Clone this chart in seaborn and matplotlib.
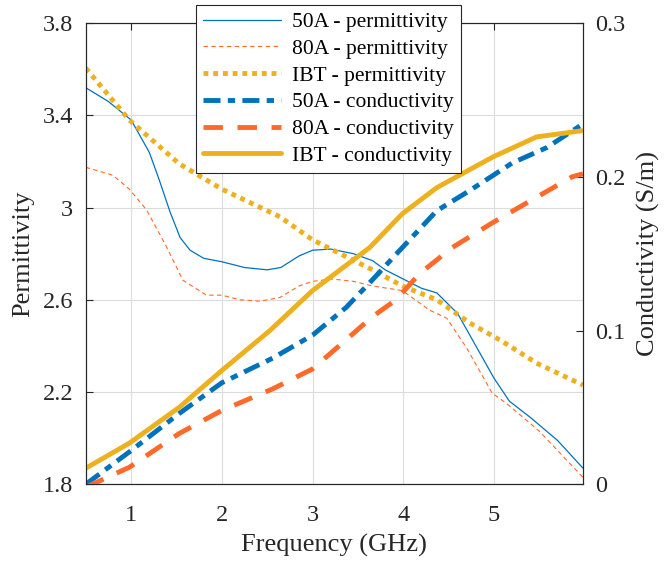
import matplotlib
matplotlib.use("Agg")
import matplotlib.pyplot as plt
import seaborn as sns

sns.set_theme(style="white")
plt.rcParams['font.family'] = ['Liberation Serif', 'DejaVu Serif']

# ---- data ----
f_50a_perm = [0.5, 0.75, 1.0, 1.2, 1.31, 1.43, 1.54, 1.65, 1.8, 2.0, 2.25, 2.5, 2.65, 2.85,
              3.0, 3.2, 3.45, 3.66, 3.8, 4.0, 4.2, 4.37, 4.6, 4.8, 5.0, 5.17, 5.4, 5.7, 5.98]
perm_50a = [3.52, 3.46, 3.38, 3.24, 3.12, 2.98, 2.87, 2.815, 2.78, 2.765, 2.74, 2.73, 2.74, 2.79,
            2.815, 2.82, 2.80, 2.77, 2.73, 2.69, 2.65, 2.63, 2.54, 2.40, 2.26, 2.16, 2.09, 1.99, 1.87]

f_80a_perm = [0.5, 0.8, 0.98, 1.17, 1.39, 1.57, 1.83, 2.0, 2.2, 2.42, 2.64, 2.85, 3.0, 3.22,
              3.45, 3.66, 3.99, 4.29, 4.48, 4.7, 4.98, 5.14, 5.5, 5.98]
perm_80a = [3.175, 3.14, 3.08, 2.99, 2.83, 2.685, 2.62, 2.62, 2.60, 2.594, 2.61, 2.66, 2.68, 2.69,
            2.68, 2.66, 2.64, 2.555, 2.52, 2.39, 2.195, 2.15, 2.03, 1.83]

f_ibt_perm = [0.5, 0.98, 1.53, 2.0, 2.64, 3.0, 3.66, 3.99, 4.37, 4.73, 5.09, 5.47, 5.98]
perm_ibt = [3.605, 3.38, 3.19, 3.08, 2.96, 2.86, 2.73, 2.66, 2.60, 2.50, 2.42, 2.325, 2.23]

f_50a_cond = [0.5, 0.98, 1.53, 2.0, 2.56, 3.0, 3.37, 3.66, 3.99, 4.37, 4.73, 5.2, 5.58, 5.97]
cond_50a = [0.0, 0.021, 0.046, 0.066, 0.082, 0.097, 0.115, 0.133, 0.154, 0.178, 0.191, 0.209, 0.219, 0.234]

f_80a_cond = [0.5, 0.98, 1.53, 2.0, 2.56, 3.0, 3.37, 3.66, 3.92, 4.18, 4.54, 4.98, 5.36, 5.86, 5.98]
cond_80a = [-0.002, 0.011, 0.033, 0.048, 0.062, 0.075, 0.094, 0.109, 0.12, 0.137, 0.154, 0.170, 0.183, 0.200, 0.202]

f_ibt_cond = [0.5, 0.98, 1.53, 2.0, 2.53, 3.0, 3.63, 3.99, 4.37, 4.99, 5.47, 5.97]
cond_ibt = [0.0104, 0.0267, 0.050, 0.074, 0.100, 0.126, 0.154, 0.176, 0.193, 0.213, 0.226, 0.230]

x_ticks = [1, 2, 3, 4, 5]
perm_ticks = [1.8, 2.2, 2.6, 3.0, 3.4, 3.8]
perm_ticklabels = ['1.8', '2.2', '2.6', '3', '3.4', '3.8']
cond_ticks = [0, 0.1, 0.2, 0.3]
cond_ticklabels = ['0', '0.1', '0.2', '0.3']

blue = '#0072BD'
orange = '#FF6A2A'
yellow = '#EDB120'
dark = '#262626'

fig = plt.figure(figsize=(6.7, 5.65), dpi=100)
ax = fig.add_axes([0.128, 0.143, 0.742, 0.816])
ax2 = ax.twinx()

# permittivity (left axis)
sns.lineplot(x=f_50a_perm, y=perm_50a, ax=ax, color=blue, lw=0.9, label='50A - permittivity')
sns.lineplot(x=f_80a_perm, y=perm_80a, ax=ax, color=orange, lw=0.8, label='80A - permittivity')
sns.lineplot(x=f_ibt_perm, y=perm_ibt, ax=ax, color=yellow, lw=3.5, label='IBT - permittivity')
ax.lines[1].set_dashes((4, 3))
ax.lines[2].set_dashes((1, 1))

# conductivity (right axis)
sns.lineplot(x=f_50a_cond, y=cond_50a, ax=ax2, color=blue, lw=3.5, label='50A - conductivity')
sns.lineplot(x=f_80a_cond, y=cond_80a, ax=ax2, color=orange, lw=3.5, label='80A - conductivity')
sns.lineplot(x=f_ibt_cond, y=cond_ibt, ax=ax2, color=yellow, lw=3.5, label='IBT - conductivity')
ax2.lines[0].set_dashes((3.5, 1.5, 1.5, 1.5))
ax2.lines[1].set_dashes((4, 3))

ax.set_xlim(0.5, 5.98)
ax.set_ylim(1.8, 3.8)
ax2.set_ylim(0, 0.3)
ax.set_xticks(x_ticks)
ax.set_yticks(perm_ticks)
ax.set_yticklabels(perm_ticklabels)
ax2.set_yticks(cond_ticks)
ax2.set_yticklabels(cond_ticklabels)

ax.grid(True, color='#dcdcdc', lw=0.8)
ax.set_axisbelow(True)

for a in (ax, ax2):
    for s in a.spines.values():
        s.set_color(dark)
        s.set_linewidth(0.8)
ax.tick_params(axis='y', direction='in', length=5, width=0.8, colors=dark,
               labelsize=17.5, pad=9)
ax.tick_params(axis='x', direction='in', length=5, width=0.8, colors=dark,
               labelsize=17.5, top=True, pad=15)
ax2.tick_params(axis='y', direction='in', length=5, width=0.8, colors=dark,
                labelsize=17.5, pad=9)

ax.set_xlabel('Frequency (GHz)', fontsize=19, color=dark, labelpad=6)
ax.set_ylabel('Permittivity', fontsize=19, color=dark, labelpad=6)
ax2.set_ylabel('Conductivity (S/m)', fontsize=19, color=dark, labelpad=8)

h1, l1 = ax.get_legend_handles_labels()
h2, l2 = ax2.get_legend_handles_labels()
ax.get_legend().remove()
ax2.get_legend().remove()
leg = fig.legend(h1 + h2, l1 + l2, loc='upper center', bbox_to_anchor=(0.49, 0.992),
                 fontsize=15.5, handlelength=3.6, handletextpad=0.5, labelspacing=0.31,
                 borderpad=0.35, borderaxespad=0, frameon=True, fancybox=False,
                 edgecolor=dark, framealpha=1)
leg.get_frame().set_linewidth(0.8)
for t in leg.get_texts():
    t.set_color('black')

fig.savefig('out.png', dpi=100)
